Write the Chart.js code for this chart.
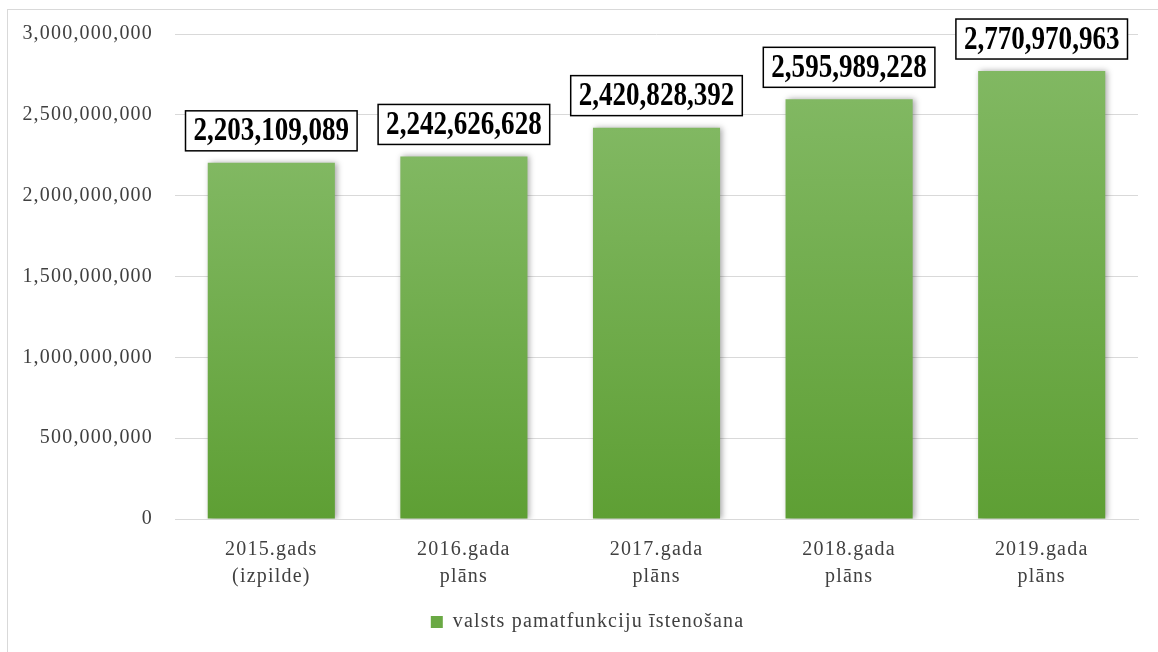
<!DOCTYPE html>
<html>
<head>
<meta charset="utf-8">
<script src="https://cdn.jsdelivr.net/npm/chart.js@4/dist/chart.umd.min.js"></script>
<style>
    html, body { margin: 0; padding: 0; background: #fff; }
    #wrap { position: relative; width: 1158px; height: 652px; }
    #frame { position: absolute; left: 7px; top: 9px; right: 0; bottom: 0;
             border-top: 1px solid #d9d9d9; border-left: 1px solid #d9d9d9; }
    canvas { position: absolute; left: 0; top: 0; }
</style>
</head>
<body>
<div id="wrap">
    <div id="frame"></div>
    <canvas id="budgetChart" width="1158" height="652"></canvas>
</div>
<script>
    const categories = [
        ['2015.gads', '(izpilde)'],
        ['2016.gada', 'plāns'],
        ['2017.gada', 'plāns'],
        ['2018.gada', 'plāns'],
        ['2019.gada', 'plāns']
    ];
    const values = [2203109089, 2242626628, 2420828392, 2595989228, 2770970963];
    const seriesName = 'valsts pamatfunkciju īstenošana';

    const serif = '"Liberation Serif", "Times New Roman", serif';

    function barGradient(context) {
        const chart = context.chart;
        if (!chart.chartArea || context.type !== 'data') {
            return '#70ad47';
        }
        const yScale = chart.scales.y;
        const top = yScale.getPixelForValue(context.raw);
        const bottom = yScale.getPixelForValue(0);
        const g = chart.ctx.createLinearGradient(0, top, 0, bottom);
        g.addColorStop(0, '#81b862');
        g.addColorStop(1, '#5e9f34');
        return g;
    }

    // the original text is drawn slightly spaced out
    const spacing = {
        id: 'spacing',
        beforeDraw(chart) {
            chart.ctx.letterSpacing = '1.2px';
        }
    };

    // soft shadow behind bars
    const barShadow = {
        id: 'barShadow',
        beforeDatasetDraw(chart) {
            const ctx = chart.ctx;
            ctx.save();
            ctx.shadowColor = 'rgba(0,0,0,0.35)';
            ctx.shadowBlur = 6;
            ctx.shadowOffsetX = 2;
            ctx.shadowOffsetY = 0;
        },
        afterDatasetDraw(chart) {
            chart.ctx.restore();
        }
    };

    // boxed value labels above each bar
    const boxedLabels = {
        id: 'boxedLabels',
        afterDatasetsDraw(chart) {
            const ctx = chart.ctx;
            const meta = chart.getDatasetMeta(0);
            const squeeze = 0.82;
            ctx.save();
            ctx.letterSpacing = '0px';
            ctx.font = 'bold 33px ' + serif;
            meta.data.forEach((bar, i) => {
                const text = values[i].toLocaleString('en-US');
                const w = ctx.measureText(text).width * squeeze;
                const boxW = w + 16;
                const boxH = 40;
                const bottom = bar.y - 12;
                const left = bar.x - boxW / 2;
                ctx.fillStyle = '#fff';
                ctx.fillRect(left, bottom - boxH, boxW, boxH);
                ctx.lineWidth = 1.5;
                ctx.strokeStyle = '#000';
                ctx.strokeRect(left, bottom - boxH, boxW, boxH);
                ctx.save();
                ctx.translate(bar.x, bottom - boxH / 2 + 1);
                ctx.scale(squeeze, 1);
                ctx.fillStyle = '#000';
                ctx.textAlign = 'center';
                ctx.textBaseline = 'middle';
                ctx.fillText(text, 0, 0);
                ctx.restore();
            });
            ctx.restore();
        }
    };

    new Chart(document.getElementById('budgetChart'), {
        type: 'bar',
        data: {
            labels: categories,
            datasets: [{
                label: seriesName,
                data: values,
                backgroundColor: barGradient,
                borderWidth: 0,
                categoryPercentage: 1,
                barPercentage: 0.66
            }]
        },
        options: {
            responsive: false,
            animation: false,
            devicePixelRatio: 1,
            layout: {
                padding: { left: 0, right: 20, top: 34, bottom: 10 }
            },
            scales: {
                x: {
                    afterFit(scale) { scale.height = 77; },
                    grid: { display: false, drawTicks: false },
                    border: { color: '#d9d9d9', width: 1 },
                    ticks: {
                        color: '#404040',
                        padding: 17,
                        font: { family: serif, size: 20, lineHeight: 1.35 },
                        maxRotation: 0
                    }
                },
                y: {
                    min: 0,
                    max: 3000000000,
                    afterFit(scale) { scale.width = 175; },
                    grid: { color: '#d9d9d9', drawTicks: false },
                    border: { display: false },
                    ticks: {
                        stepSize: 500000000,
                        color: '#404040',
                        padding: 22,
                        font: { family: serif, size: 20 },
                        callback: v => v.toLocaleString('en-US')
                    }
                }
            },
            plugins: {
                legend: {
                    position: 'bottom',
                    labels: {
                        color: '#404040',
                        boxWidth: 12,
                        boxHeight: 12,
                        padding: 16,
                        font: { family: serif, size: 20 },
                        generateLabels(chart) {
                            return Chart.defaults.plugins.legend.labels.generateLabels(chart)
                                .map(item => Object.assign(item, { fillStyle: '#6aa944', lineWidth: 0 }));
                        }
                    }
                },
                tooltip: { enabled: false }
            }
        },
        plugins: [spacing, barShadow, boxedLabels]
    });
</script>
</body>
</html>
